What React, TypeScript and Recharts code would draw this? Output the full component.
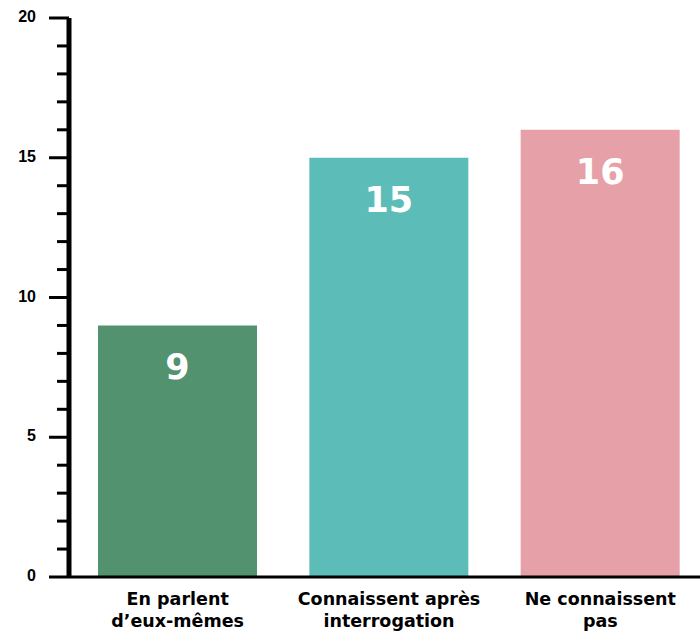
import React from "react";
import { BarChart, Bar, XAxis, YAxis, Cell, LabelList } from "recharts";

const categories = ["En parlent\nd’eux-mêmes", "Connaissent après\ninterrogation", "Ne connaissent\npas"];
const values = [9, 15, 16];
const colors = ["#53926F", "#5CBDB8", "#E6A0A7"];
const yTicks = [0, 1, 2, 3, 4, 5, 6, 7, 8, 9, 10, 11, 12, 13, 14, 15, 16, 17, 18, 19, 20];

const data = categories.map((c, i) => ({ name: c, value: values[i] }));

const FONT = "'DejaVu Sans', Verdana, sans-serif";
const TICK_FONT = "'Liberation Sans', Arial, sans-serif";

const YTick = (props: any) => {
  const { x, y, payload } = props;
  const v = payload.value;
  const major = v % 5 === 0;
  return (
    <g>
      <line x1={x} x2={x - (major ? 20 : 12)} y1={y} y2={y} stroke="#000" strokeWidth={3} />
      {major && (
        <text x={x - 33} y={y} dy="0.25em" textAnchor="end" fontFamily={TICK_FONT} fontWeight="bold" fontSize={16} fill="#000">
          {v}
        </text>
      )}
    </g>
  );
};

const XTick = (props: any) => {
  const { x, y, payload } = props;
  const lines = String(payload.value).split("\n");
  return (
    <text x={x} y={y} textAnchor="middle" fontFamily={FONT} fontWeight="bold" fontSize={17.5} fill="#000">
      {lines.map((l, i) => (
        <tspan key={i} x={x} dy={i === 0 ? 20 : 22}>
          {l}
        </tspan>
      ))}
    </text>
  );
};

export default function App() {
  return (
    <div style={{ position: "absolute", left: 0, top: 0, width: 700, height: 635, background: "#fff", overflow: "hidden" }}>
      <BarChart width={700} height={635} data={data} margin={{ top: 18, right: 0, bottom: 0, left: 0 }} barSize={159}>
        <XAxis
          dataKey="name"
          height={58}
          interval={0}
          axisLine={{ stroke: "#000", strokeWidth: 3 }}
          tickLine={false}
          tick={<XTick />}
          padding={{ left: 3, right: -6 }}
        />
        <YAxis
          width={69}
          domain={[0, 20]}
          ticks={yTicks}
          interval={0}
          tickSize={0}
          tickMargin={0}
          tickLine={false}
          axisLine={{ stroke: "#000", strokeWidth: 5 }}
          tick={<YTick />}
        />
        <Bar dataKey="value" isAnimationActive={false}>
          {data.map((d, i) => (
            <Cell key={i} fill={colors[i]} />
          ))}
          <LabelList
            dataKey="value"
            position="insideTop"
            offset={29}
            fill="#fff"
            fontSize={35}
            fontWeight="bold"
            fontFamily={FONT}
          />
        </Bar>
      </BarChart>
    </div>
  );
}
